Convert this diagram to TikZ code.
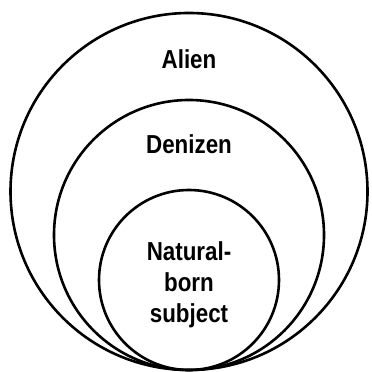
\documentclass[tikz,border=0pt]{standalone}
\usepackage{fontspec}
\setmainfont{Liberation Sans}
\newfontfamily\narrowsans[FakeStretch=0.86]{Liberation Sans}
\usepackage{tikz}
\usetikzlibrary{positioning}

\begin{document}
\begin{tikzpicture}[
    x=1pt, y=1pt,
    ring/.style={draw, circle, line width=2.6pt, inner sep=0pt},
    label/.style={font=\narrowsans\fontsize{26}{31}\selectfont\bfseries, align=center, inner sep=0pt, anchor=base}
]
\useasboundingbox (0,0) rectangle (372,372);

% Circles
\node (alien) [ring, minimum size=357pt] at (189,180.5) {};
\node (denizen) [ring, minimum size=270pt] at (189,137) {};
\node (subject) [ring, minimum size=180pt] at (189,92) {};

% Labels
\node (alientext) [label] at (189,303) {Alien};
\node (denizentext) [label] at (189,218) {Denizen};
\node (subjecttext) [label] at (189,49) {Natural-\\born\\subject};

\end{tikzpicture}
\end{document}
